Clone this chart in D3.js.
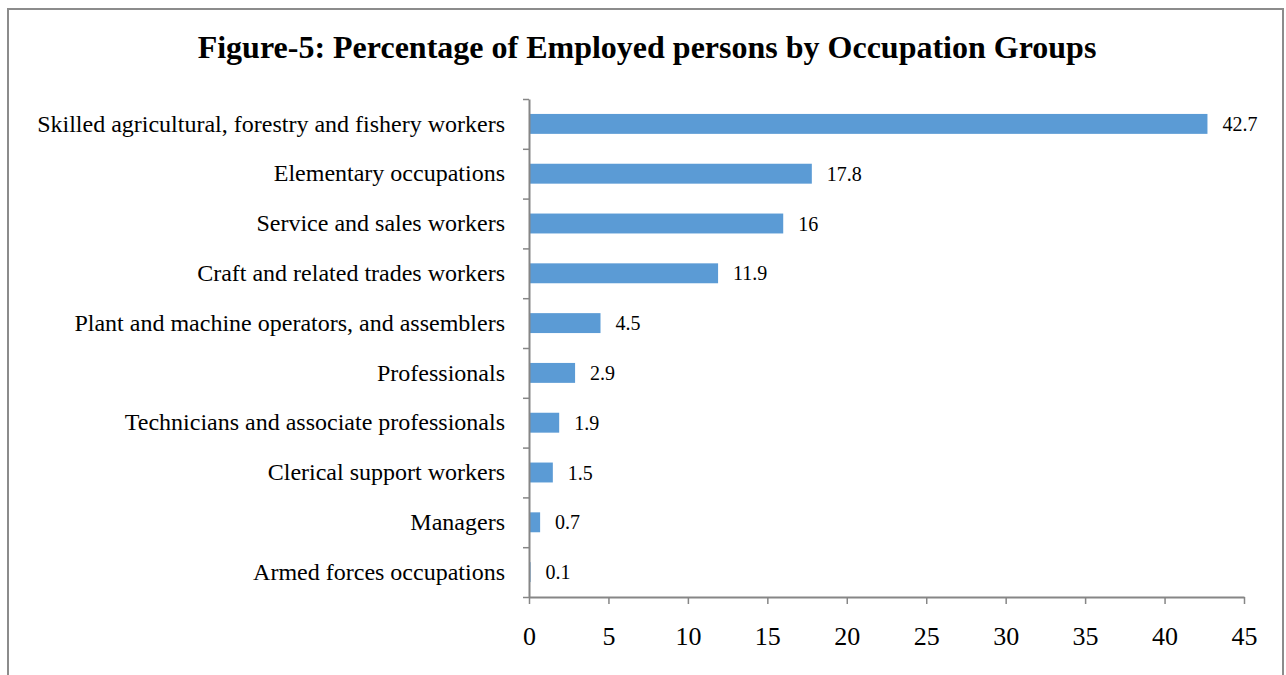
<!DOCTYPE html>
<html>
<head>
<meta charset="utf-8">
<script src="https://cdn.jsdelivr.net/npm/d3@7"></script>
<style>
  body { margin: 0; background: #fff; }
  svg { display: block; font-family: "Liberation Serif", "Times New Roman", serif; }
</style>
</head>
<body>
<div id="chart"></div>
<script>
// data, top to bottom as shown
const categories = [
    "Skilled agricultural, forestry and fishery workers",
    "Elementary occupations",
    "Service and sales workers",
    "Craft and related trades workers",
    "Plant and machine operators, and assemblers",
    "Professionals",
    "Technicians and associate professionals",
    "Clerical support workers",
    "Managers",
    "Armed forces occupations"
];
const values = [42.7, 17.8, 16, 11.9, 4.5, 2.9, 1.9, 1.5, 0.7, 0.1];
const xTicks = [0, 5, 10, 15, 20, 25, 30, 35, 40, 45];

const width = 1286, height = 675;
const margin = { top: 99, right: 42, bottom: 78, left: 529 };

const svg = d3.select("#chart")
    .append("svg")
    .attr("width", width)
    .attr("height", height);

// frame around the figure
svg.append("path")
    .attr("d", "M8,675V9H1283V675")
    .attr("fill", "none")
    .attr("stroke", "#8c8c8c")
    .attr("stroke-width", 2);

// title
svg.append("text")
    .attr("x", 647)
    .attr("y", 58)
    .attr("text-anchor", "middle")
    .style("font-size", "32px")
    .style("font-weight", "bold")
    .text("Figure-5: Percentage of Employed persons by Occupation Groups");

const x = d3.scaleLinear()
    .domain([0, 45])
    .range([margin.left, width - margin.right]);

const y = d3.scaleBand()
    .domain(categories)
    .range([margin.top, height - margin.bottom])
    .paddingInner(0.6)
    .paddingOuter(0.3);

// band boundaries for the y tick marks
const yEdge = d3.scaleLinear()
    .domain([0, categories.length])
    .range([margin.top, height - margin.bottom]);

// bars
svg.selectAll("rect.bar")
    .data(values)
    .join("rect")
    .attr("class", "bar")
    .attr("x", x(0))
    .attr("y", (d, i) => y(categories[i]))
    .attr("width", d => x(d) - x(0))
    .attr("height", y.bandwidth())
    .attr("fill", "#5b9bd5");

// value labels
svg.selectAll("text.val")
    .data(values)
    .join("text")
    .attr("class", "val")
    .attr("x", d => x(d) + 15)
    .attr("y", (d, i) => y(categories[i]) + y.bandwidth() / 2)
    .attr("dy", "0.35em")
    .style("font-size", "20px")
    .style("fill", "#000")
    .text(d => d);

// y axis line + ticks at band edges
const yAxis = svg.append("g")
    .attr("transform", `translate(${x(0)},0)`)
    .call(d3.axisLeft(yEdge).tickValues(d3.range(categories.length + 1)).tickFormat("").tickSize(6).tickSizeOuter(0));
yAxis.select(".domain").attr("stroke", "#868686").attr("stroke-width", 2);
yAxis.selectAll(".tick line").attr("stroke", "#868686").attr("stroke-width", 1.5);

// category labels
const yLabels = svg.append("g")
    .attr("transform", `translate(${x(0)},0)`)
    .call(d3.axisLeft(y).tickSize(0).tickPadding(24));
yLabels.select(".domain").remove();
yLabels.selectAll("text")
    .style("font-size", "24px")
    .style("font-family", "'Liberation Serif', 'Times New Roman', serif")
    .attr("fill", "#000");

// x axis
const xAxis = svg.append("g")
    .attr("transform", `translate(0,${height - margin.bottom})`)
    .call(d3.axisBottom(x).tickValues(xTicks).tickSize(7).tickSizeOuter(0).tickPadding(23));
xAxis.select(".domain").attr("stroke", "#868686").attr("stroke-width", 2);
xAxis.selectAll(".tick line").attr("stroke", "#868686").attr("stroke-width", 1.5);
xAxis.selectAll("text")
    .style("font-size", "26px")
    .style("font-family", "'Liberation Serif', 'Times New Roman', serif")
    .attr("fill", "#000");
</script>
</body>
</html>
